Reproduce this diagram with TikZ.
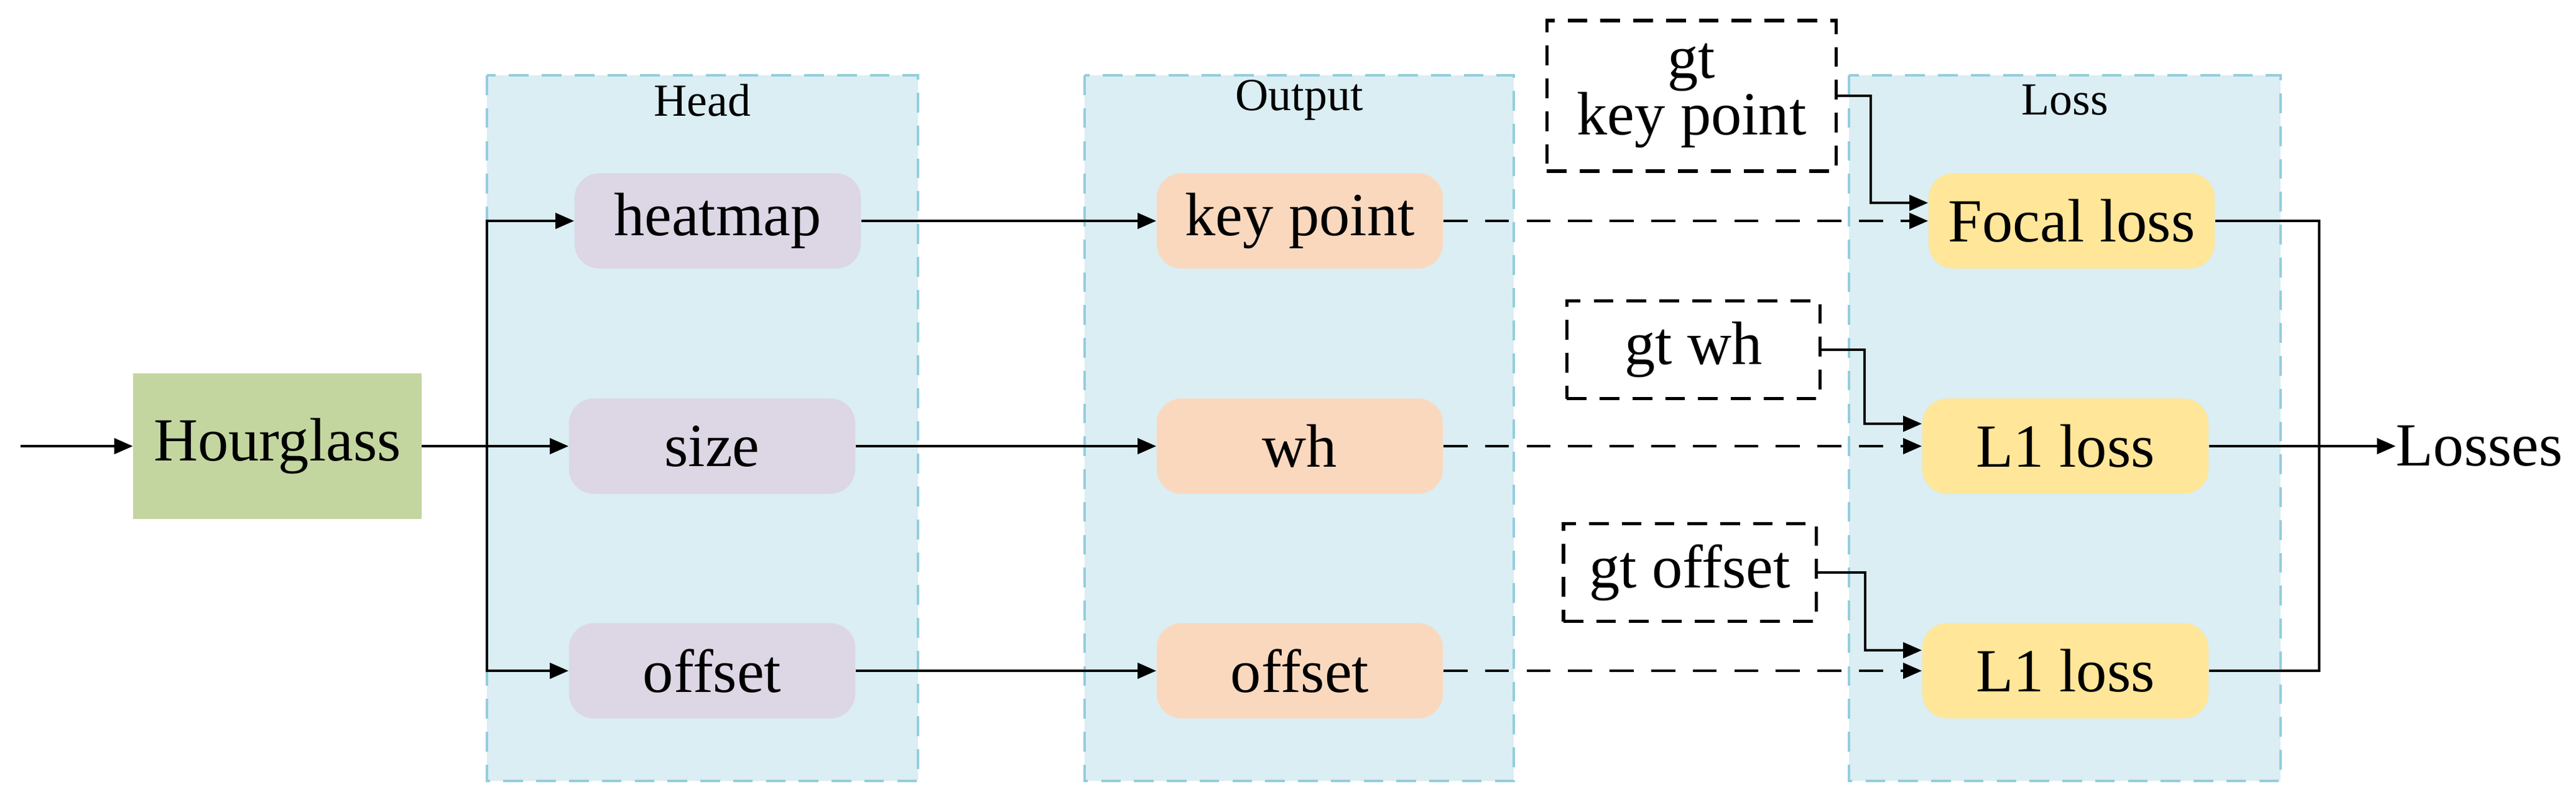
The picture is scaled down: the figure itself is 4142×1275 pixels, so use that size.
\documentclass[tikz,border=0pt]{standalone}
\usepackage{fontspec}
\setmainfont{Liberation Serif}
\usetikzlibrary{arrows.meta}
\definecolor{panel}{HTML}{DAEEF3}
\definecolor{panelb}{HTML}{93CDDD}
\definecolor{headc}{HTML}{DCD6E5}
\definecolor{outc}{HTML}{FAD8BE}
\definecolor{lossc}{HTML}{FFE699}
\definecolor{hgc}{HTML}{C4D6A0}
\begin{document}
\begin{tikzpicture}[x=0.01cm,y=-0.01cm,
  panelbox/.style={draw=panelb,fill=panel,line width=1.2pt,dash pattern=on 9pt off 6pt},
  blk/.style={rounded corners=0.4cm,minimum width=4.6cm,minimum height=1.53cm,inner sep=0pt,font=\fontsize{28}{32}\selectfont},
  gt/.style={draw=black,line width=1.5pt,dash pattern=on 9pt off 6pt,inner sep=0pt,font=\fontsize{28}{30}\selectfont,align=center},
  lbl/.style={font=\fontsize{21}{24}\selectfont},
  arr/.style={line width=1.2pt,-{Triangle[length=0.3cm,width=0.25cm]}},
  darr/.style={arr,dash pattern=on 11pt off 8pt},
  ln/.style={line width=1.2pt}]
\useasboundingbox (0,0) rectangle (4142,1275);
\draw[panelbox] (783,121) rectangle (1476,1255);
\draw[panelbox] (1744,121) rectangle (2434,1255);
\draw[panelbox] (2973,121) rectangle (3667,1255);
\node[lbl] (lh) at (1129,161) {Head};
\node[lbl] (lo) at (2089,161) {Output};
\node[lbl] (ll) at (3320,161) {Loss};
\node[fill=hgc,minimum width=4.63cm,minimum height=2.34cm,inner sep=0pt,font=\fontsize{28}{32}\selectfont] (hg) at (446,717) {Hourglass};
\node[blk,fill=headc] (heat) at (1154,355) {heatmap};
\node[blk,fill=headc] (size) at (1145,717) {size};
\node[blk,fill=headc] (hoff) at (1145,1078) {offset};
\node[blk,fill=outc] (kp) at (2090,355) {key point};
\node[blk,fill=outc] (wh) at (2090,717) {wh};
\node[blk,fill=outc] (ooff) at (2090,1078) {offset};
\node[blk,fill=lossc] (focal) at (3331,355) {Focal loss};
\node[blk,fill=lossc] (l1a) at (3321,717) {L1 loss};
\node[blk,fill=lossc] (l1b) at (3321,1078) {L1 loss};
\node[gt,minimum width=4.65cm,minimum height=2.42cm] (gkp) at (2720,154) {gt\\[-4pt]key point};
\node[gt,minimum width=4.07cm,minimum height=1.57cm] (gwh) at (2723,562) {gt wh};
\node[gt,minimum width=4.06cm,minimum height=1.57cm] (goff) at (2717,920) {gt offset};
\node[font=\fontsize{28}{32}\selectfont,anchor=west,inner sep=0pt] (loss) at (3852,717) {Losses};
\coordinate (in) at (33,717);
\coordinate (br) at (783,717);
\coordinate (mg) at (3729,717);
\draw[arr] (in) -- (hg.west);
\draw[arr] (hg.east) -- (size.west);
\draw[arr] (br) |- (heat.west);
\draw[arr] (br) |- (hoff.west);
\draw[arr] (heat.east) -- (kp.west);
\draw[arr] (size.east) -- (wh.west);
\draw[arr] (hoff.east) -- (ooff.west);
\draw[darr] (kp.east) -- (focal.west);
\draw[darr] (wh.east) -- (l1a.west);
\draw[darr] (ooff.east) -- (l1b.west);
\draw[arr] (gkp.east) -- ++(53,0) |- ([yshift=0.29cm]focal.west);
\draw[arr] (gwh.east) -- ++(69,0) |- ([yshift=0.36cm]l1a.west);
\draw[arr] (goff.east) -- ++(76,0) |- ([yshift=0.33cm]l1b.west);
\draw[ln] (focal.east) -| (mg) |- (l1b.east);
\draw[arr] (l1a.east) -- (loss.west);
\end{tikzpicture}
\end{document}
